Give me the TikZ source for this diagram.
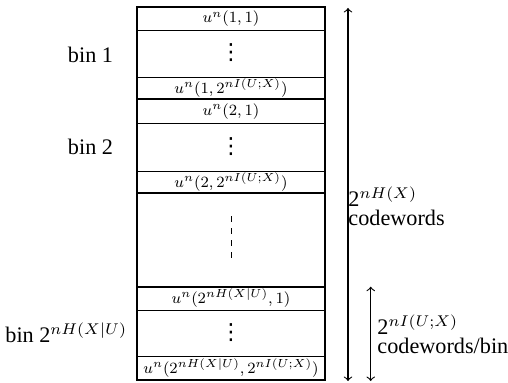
\documentclass[tikz,border=0pt]{standalone}
\usepackage[no-math]{fontspec}
\setmainfont{Liberation Serif}
\newfontfamily\symfont{DejaVu Sans}
\begin{document}
\begin{tikzpicture}[x=0.45pt,y=-0.45pt,
  thickline/.style={line width=0.8pt},
  thinline/.style={line width=0.4pt},
  celltext/.style={font=\footnotesize, inner sep=0pt, scale=0.88, transform shape},
  dotstext/.style={font=\symfont\fontsize{10}{10}\selectfont, inner sep=0pt},
  binlabel/.style={anchor=east, inner sep=0pt},
  sidelabel/.style={anchor=north west, inner sep=0pt, align=left},
  dimarrow/.style={<->, line width=0.5pt}]
\useasboundingbox (0,0) rectangle (508,383);
% inner thin lines
\foreach \y in {30,77.3,123.3,171,310,356.7}
  \draw[thinline] (137,\y) -- (325,\y);
% bin separators
\foreach \y in {99.3,193.3,286.7}
  \draw[thickline] (137,\y) -- (325,\y);
\draw[thickline] (137,7.3) rectangle (325,380);
% cell texts
\node[celltext] (c11) at (231,18.7) {$u^n(1,1)$};
\node[dotstext] (d1) at (231,53) {⋮};
\node[celltext] (c1n) at (231,88.3) {$u^n(1,2^{nI(U;X)})$};
\node[celltext] (c21) at (231,111.3) {$u^n(2,1)$};
\node[dotstext] (d2) at (231,147) {⋮};
\node[celltext] (c2n) at (231,182.2) {$u^n(2,2^{nI(U;X)})$};
\node[celltext] (cm1) at (231,298.3) {$u^n(2^{nH(X|U)},1)$};
\node[dotstext] (d3) at (231,333) {⋮};
\node[celltext] (cmn) at (231,368.3) {$u^n(2^{nH(X|U)},2^{nI(U;X)})$};
\coordinate (dtop) at (231.5,216.5);
\coordinate (dbot) at (231.5,263.5);
\draw[thinline, dash pattern=on 2.7pt off 2.7pt] (dtop) -- (dbot);
% bin labels
\node[binlabel] (b1) at (113.5,55) {bin 1};
\node[binlabel] (b2) at (113.5,147) {bin 2};
\node[binlabel] (bm) at (127.5,333) {bin 2$^{nH(X|U)}$};
% arrows
\coordinate (atop) at (348,8);
\coordinate (abot) at (348,381);
\draw[dimarrow] (atop) -- (abot);
\coordinate (btop) at (370.7,286.7);
\coordinate (bbot) at (370.7,381);
\draw[dimarrow] (btop) -- (bbot);
\node[sidelabel] (l1) at (348,186) {2$^{nH(X)}$\\[-3.4pt]codewords};
\node[sidelabel] (l2) at (377,314) {2$^{nI(U;X)}$\\[-3.2pt]codewords/bin};
\end{tikzpicture}
\end{document}
